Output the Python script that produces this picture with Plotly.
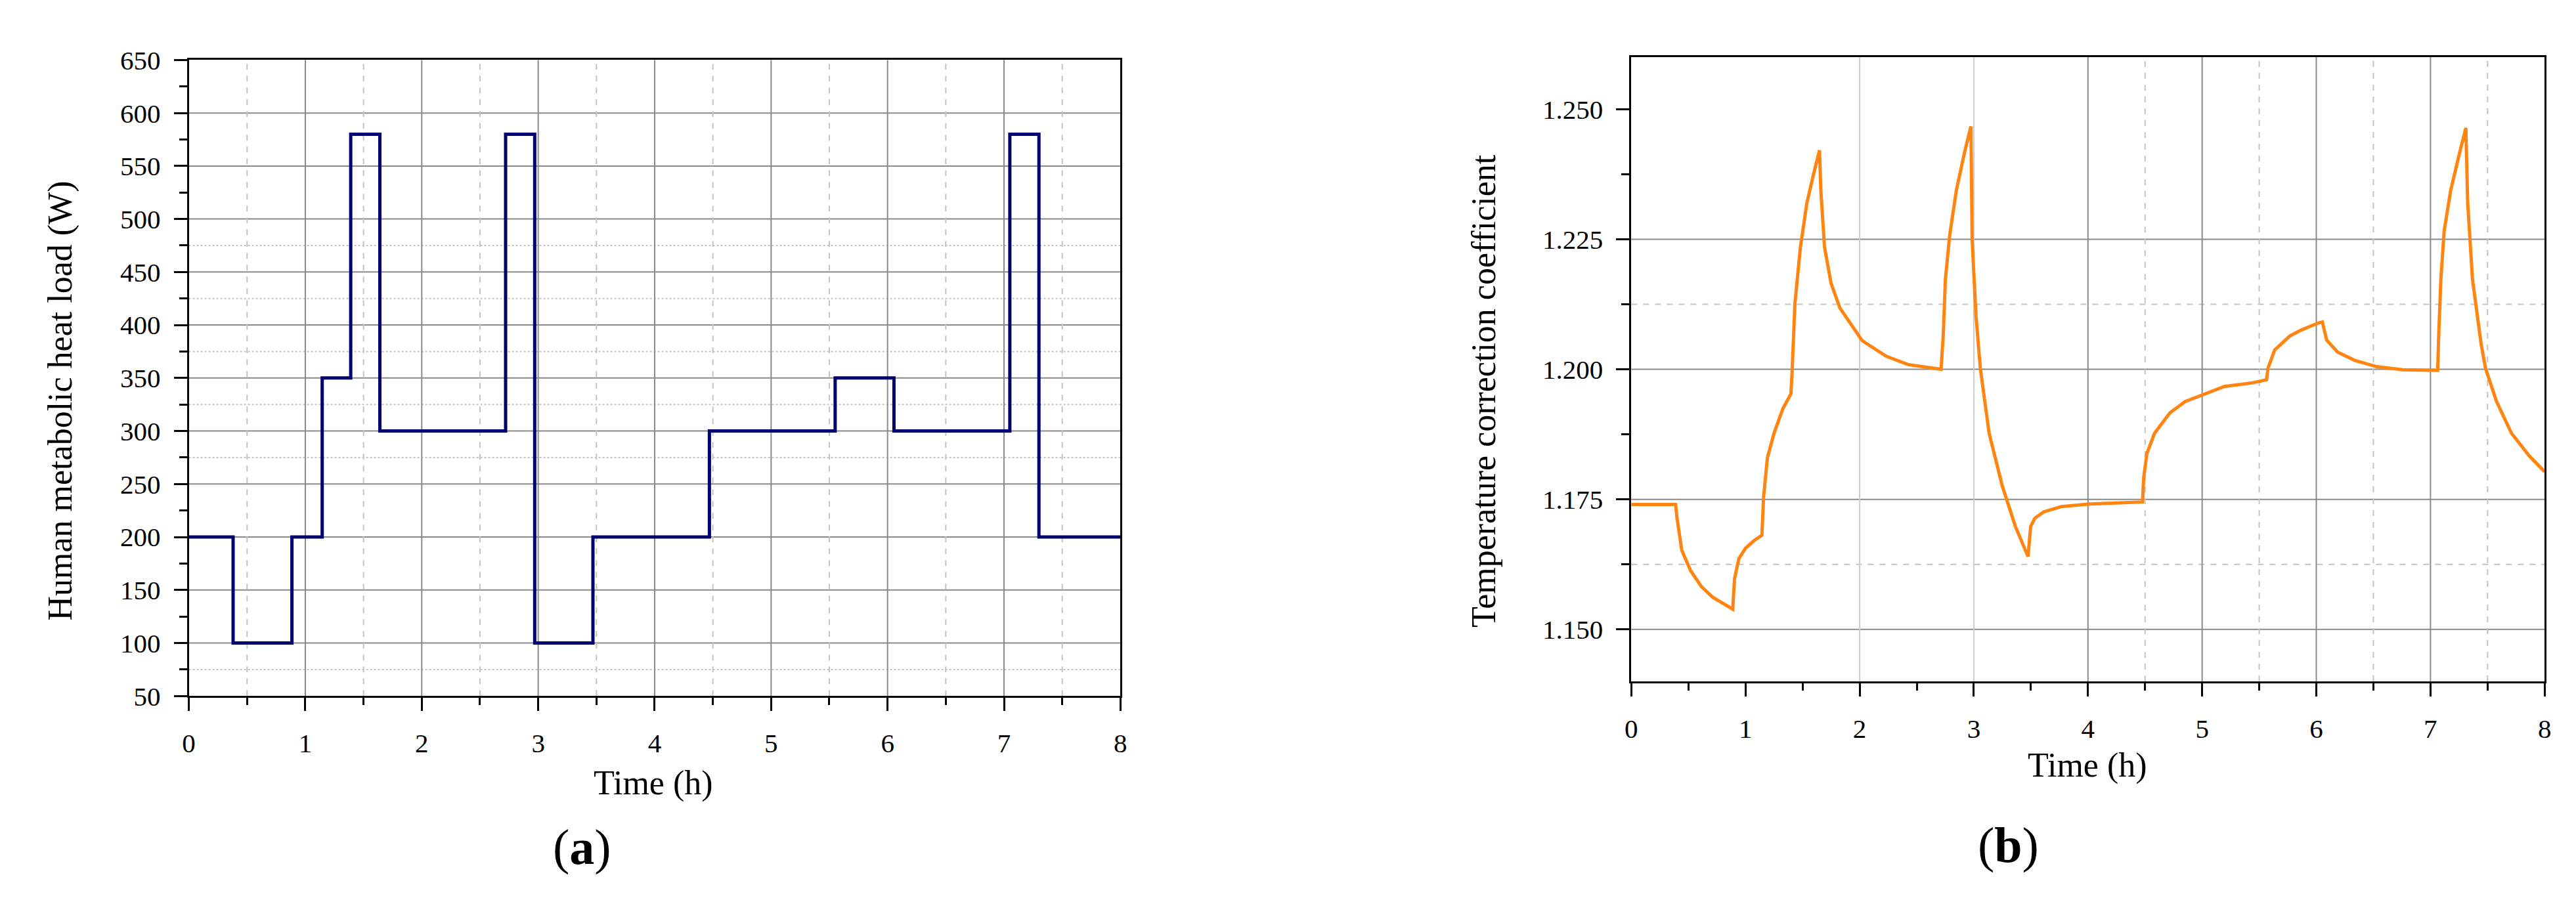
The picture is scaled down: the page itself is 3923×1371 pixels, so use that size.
"""
Two panels: (a) human metabolic heat load schedule, (b) temperature correction coefficient.
"""
import plotly.graph_objects as go

# ---- panel (a): step schedule of the metabolic heat load
A_TIME = [0, 0.38, 0.885, 1.145, 1.39, 1.64, 2.72, 2.97, 3.47, 4.47, 5.55, 6.055, 7.05, 7.30, 8]
A_LOAD = [200, 100, 200, 350, 580, 300, 580, 100, 200, 300, 350, 300, 580, 200, 200]

# ---- panel (b): temperature correction coefficient
B_TIME = [0, 0.388, 0.40, 0.442, 0.519, 0.615, 0.712, 0.808, 0.888,
          0.904, 0.942, 1.0, 1.077, 1.144,
          1.158, 1.192, 1.25, 1.327, 1.398,
          1.408, 1.433, 1.481, 1.538, 1.596, 1.648,
          1.66, 1.692, 1.75, 1.827, 1.923, 2.019, 2.042, 2.234, 2.425, 2.617, 2.713,
          2.732, 2.751, 2.789, 2.847, 2.923, 2.975,
          2.985, 3.019, 3.057, 3.134, 3.249, 3.364, 3.475,
          3.498, 3.536, 3.613, 3.766, 4.015, 4.239, 4.478,
          4.488, 4.516, 4.583, 4.717, 4.851, 5.0, 5.195, 5.444, 5.564,
          5.577, 5.635, 5.768, 5.864, 6.017, 6.053,
          6.091, 6.187, 6.339, 6.53, 6.758, 7.063,
          7.072, 7.091, 7.12, 7.177, 7.253, 7.31,
          7.326, 7.368, 7.444, 7.482, 7.577, 7.71, 7.863, 8.0]
B_COEF = [1.1740, 1.1740, 1.1714, 1.1652, 1.1613, 1.1582, 1.1562, 1.1549, 1.1539,
          1.1597, 1.1636, 1.1656, 1.1671, 1.1681,
          1.1753, 1.1830, 1.1877, 1.1924, 1.1953,
          1.1994, 1.2126, 1.2235, 1.2320, 1.2375, 1.2421,
          1.2344, 1.2235, 1.2165, 1.2118, 1.2087, 1.2056, 1.2052, 1.2025, 1.2009, 1.2002, 1.2000,
          1.2064, 1.2173, 1.2258, 1.2344, 1.2421, 1.2467,
          1.2250, 1.2103, 1.2002, 1.1877, 1.1776, 1.1698, 1.1640,
          1.1698, 1.1714, 1.1726, 1.1736, 1.1741, 1.1743, 1.1745,
          1.1792, 1.1838, 1.1877, 1.1916, 1.1938, 1.1951, 1.1967, 1.1974, 1.1980,
          1.2002, 1.2037, 1.2064, 1.2075, 1.2089, 1.2091,
          1.2056, 1.2033, 1.2017, 1.2005, 1.1999, 1.1998,
          1.2064, 1.2173, 1.2266, 1.2344, 1.2414, 1.2464,
          1.2320, 1.2173, 1.2048, 1.2002, 1.1939, 1.1877, 1.1834, 1.1803]

# gridlines as they appear in the original picture
A_GRID_Y = [100, 150, 200, 250, 300, 350, 400, 450, 500, 550, 600]
A_MINOR_Y = [75, 275, 325, 375, 425, 475]
A_GRID_X = [1, 2, 3, 4, 5, 6, 7]
A_MINOR_X = [0.5, 1.5, 2.5, 3.5, 4.5, 5.5, 6.5, 7.5]
B_GRID_Y = [1.150, 1.175, 1.200, 1.225]
B_MINOR_Y = [1.1625, 1.2125]
B_GRID_X = [4, 5, 6, 7]
B_GRID_X_LIGHT = [2, 3]
B_MINOR_X = [4.5, 5.5, 6.5, 7.5]
B_TICKS = [1.150, 1.175, 1.200, 1.225, 1.250]

W, H = 3923, 1371
FONT = "Liberation Serif, Times New Roman, serif"
MAJOR = "#8a8a8a"
MINOR = "#c4c4c4"

fig = go.Figure()
fig.add_trace(go.Scatter(x=A_TIME, y=A_LOAD, mode="lines", line_shape="hv",
                         line=dict(color="#00006E", width=5), xaxis="x", yaxis="y",
                         showlegend=False))
fig.add_trace(go.Scatter(x=B_TIME, y=B_COEF, mode="lines",
                         line=dict(color="#FF8410", width=5), xaxis="x2", yaxis="y2",
                         showlegend=False))

shapes = []
def hline(v, xa, ya, color, dash, width=2):
    shapes.append(dict(type="line", xref=f"{xa} domain", yref=ya, x0=0, x1=1, y0=v, y1=v,
                       line=dict(color=color, width=width, dash=dash), layer="below"))

def vline(v, xa, ya, color, dash, width=2):
    shapes.append(dict(type="line", xref=xa, yref=f"{ya} domain", x0=v, x1=v, y0=0, y1=1,
                       line=dict(color=color, width=width, dash=dash), layer="below"))

for v in A_GRID_Y: hline(v, "x", "y", MAJOR, "solid")
for v in A_MINOR_Y: hline(v, "x", "y", MINOR, "dot")
for v in A_GRID_X: vline(v, "x", "y", MAJOR, "solid")
for v in A_MINOR_X: vline(v, "x", "y", MINOR, "dash")
for v in B_GRID_Y: hline(v, "x2", "y2", MAJOR, "solid")
for v in B_MINOR_Y: hline(v, "x2", "y2", MINOR, "dash")
for v in B_GRID_X: vline(v, "x2", "y2", MAJOR, "solid")
for v in B_GRID_X_LIGHT: vline(v, "x2", "y2", "#cccccc", "solid")
for v in B_MINOR_X: vline(v, "x2", "y2", MINOR, "dash")

axis_common = dict(showline=True, linecolor="black", linewidth=3, mirror=True,
                   showgrid=False, zeroline=False, ticks="outside", tickwidth=3,
                   ticklen=20, tickcolor="black",
                   tickfont=dict(family=FONT, size=41, color="black"))

fig.update_layout(
    width=W, height=H,
    paper_bgcolor="white", plot_bgcolor="white",
    margin=dict(l=0, r=0, t=0, b=0),
    font=dict(family=FONT, color="black"),
    shapes=shapes,
    xaxis=dict(domain=[271 / W, 1697 / W], range=[0, 8], dtick=1, anchor="y",
               minor=dict(dtick=0.5, ticklen=11, tickwidth=3, tickcolor="black", ticks="outside"),
               ticklabelstandoff=14, **axis_common),
    yaxis=dict(domain=[1 - 1065 / H, 1 - 62.5 / H], range=[50, 650], dtick=50, anchor="x",
               minor=dict(dtick=25, ticklen=12, tickwidth=3, tickcolor="black", ticks="outside"),
               ticklabelstandoff=12, **axis_common),
    xaxis2=dict(domain=[2479 / W, 3877 / W], range=[0, 8], dtick=1, anchor="y2",
                minor=dict(dtick=0.5, ticklen=11, tickwidth=3, tickcolor="black", ticks="outside"),
                ticklabelstandoff=14, **axis_common),
    yaxis2=dict(domain=[1 - 1042 / H, 1 - 58 / H], range=[1.14, 1.26], anchor="x2",
                tickmode="array", tickvals=B_TICKS, ticktext=[f"{v:.3f}" for v in B_TICKS],
                minor=dict(tick0=1.15, dtick=0.0125, ticklen=12, tickwidth=3,
                           tickcolor="black", ticks="outside"),
                ticklabelstandoff=12, **axis_common),
)

annotations = [
    dict(text="Time (h)", x=982 / W, y=1 - 1202 / H, font=dict(size=52)),
    dict(text="Time (h)", x=3177 / W, y=1 - 1174 / H, font=dict(size=52)),
    dict(text="Human metabolic heat load (W)", x=74 / W, y=1 - 600 / H,
         textangle=-90, font=dict(size=52)),
    dict(text="Temperature correction coefficient", x=2253 / W, y=1 - 584 / H,
         textangle=-90, font=dict(size=52)),
    dict(text="(<b>a</b>)", x=873 / W, y=1 - 1303 / H, font=dict(size=76)),
    dict(text="(<b>b</b>)", x=3056 / W, y=1 - 1300 / H, font=dict(size=76)),
]
for a in annotations:
    a.update(xref="paper", yref="paper", showarrow=False, xanchor="center", yanchor="middle")
    a["font"].update(family=FONT, color="black")
fig.update_layout(annotations=annotations)

fig.write_html("out.html")
